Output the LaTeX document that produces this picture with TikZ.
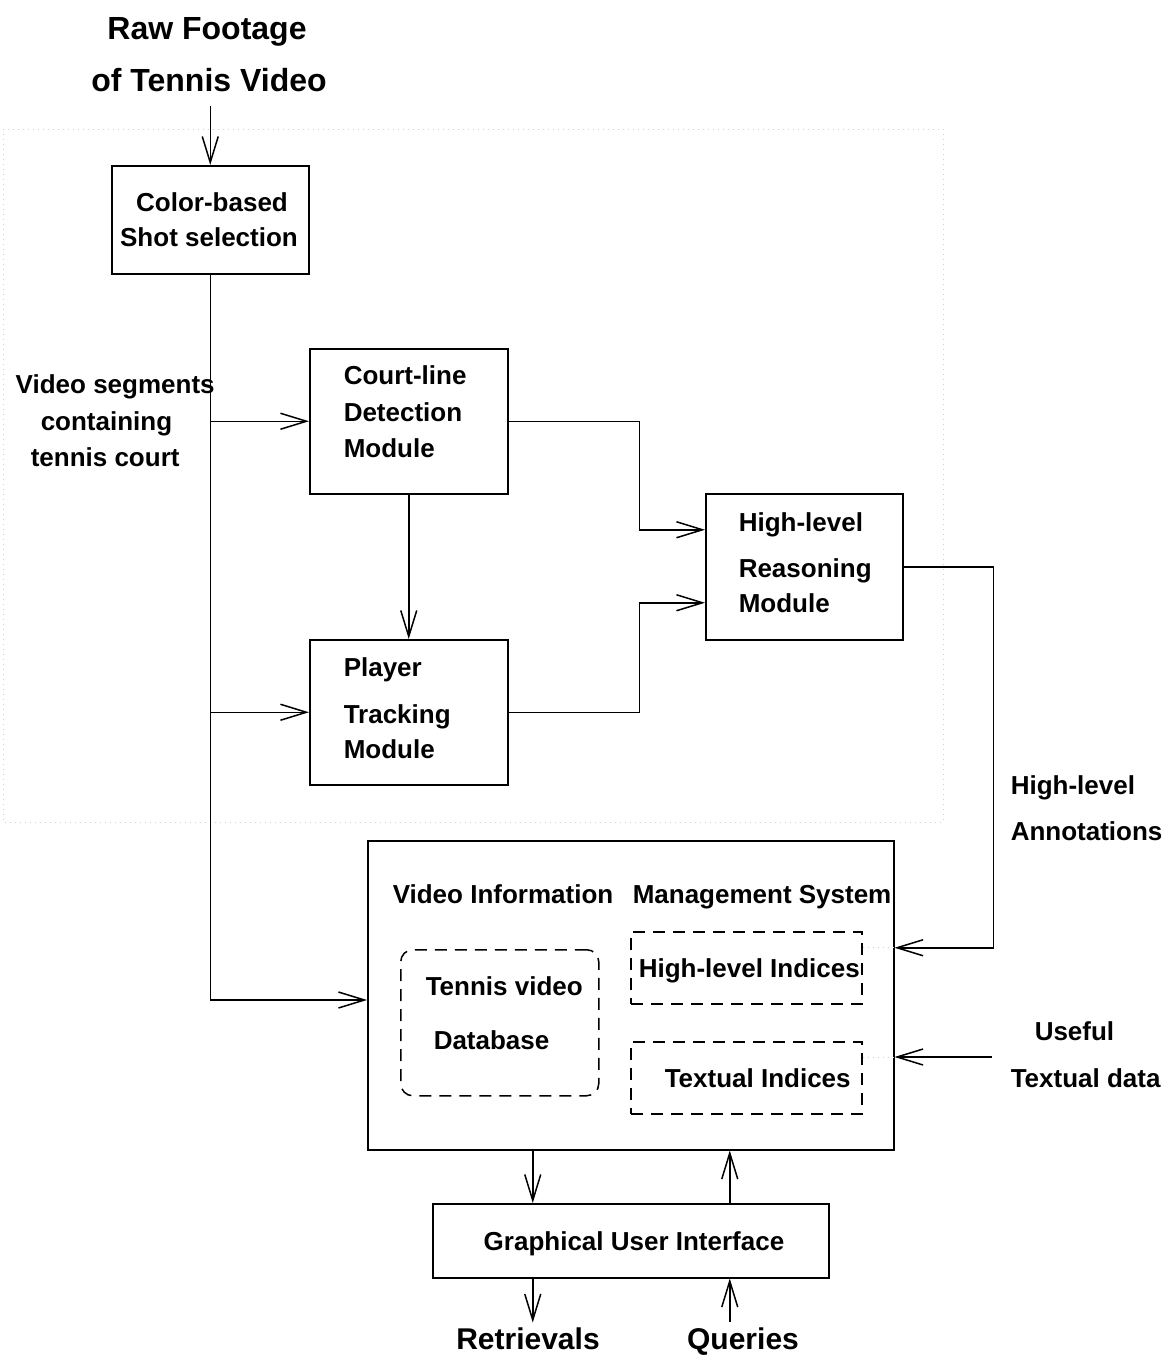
\documentclass[tikz,border=0pt]{standalone}
\usepackage{fontspec}
\setmainfont{Liberation Sans}
\usetikzlibrary{arrows.meta,calc}
\begin{document}
\begin{tikzpicture}[x=1pt,y=-1pt,line width=1.5pt,
  box/.style={draw,line width=1.5pt,inner sep=0pt,anchor=north west},
  dbox/.style={draw,line width=1.5pt,inner sep=0pt,anchor=north west,dash pattern=on 12pt off 8pt},
  txt/.style={font=\fontsize{26}{31}\selectfont\bfseries,inner sep=0pt,anchor=base west},
  ctxt/.style={font=\fontsize{26}{31}\selectfont\bfseries,inner sep=0pt,anchor=base},
  btxt/.style={font=\fontsize{30}{36}\selectfont\bfseries,inner sep=0pt,anchor=base},
  ttl/.style={font=\fontsize{32}{38}\selectfont\bfseries,inner sep=0pt,anchor=base},
  arr/.style={-{Straight Barb[length=26pt,width=16pt]}},
  faint/.style={draw=black!18,line width=1pt,dash pattern=on 1pt off 4pt}]
\useasboundingbox (0,0) rectangle (1174,1357);
% faint dotted frame
\draw[faint] (3,129) rectangle (943,822);
% title
\node[ttl] (t1) at (207,39) {Raw Footage};
\node[ttl] (t2) at (209,91) {of Tennis Video};
% boxes
\node[box,minimum width=197pt,minimum height=108pt] (csel) at (111,165) {};
\node[box,minimum width=198pt,minimum height=145pt] (cl) at (309,348) {};
\node[box,minimum width=198pt,minimum height=145pt] (pt) at (309,639) {};
\node[box,minimum width=197pt,minimum height=146pt] (hl) at (705,493) {};
\node[box,minimum width=526pt,minimum height=309pt] (vims) at (367,840) {};
\node[box,minimum width=396pt,minimum height=74pt] (gui) at (432,1203) {};
\node[dbox,rounded corners=12pt,minimum width=198pt,minimum height=146pt] (db) at (400,949) {};
\node[dbox,minimum width=231pt,minimum height=72pt] (hli) at (630,931) {};
\node[dbox,minimum width=231pt,minimum height=72pt] (tli) at (630,1041) {};
% texts
\node[ctxt] (cs1) at (212,211) {Color-based};
\node[ctxt] (cs2) at (209,246) {Shot selection};
\node[txt] (cl1) at (343,384) {Court-line};
\node[txt] (cl2) at (343,421) {Detection};
\node[txt] (cl3) at (343,457) {Module};
\node[txt] (pt1) at (343,676) {Player};
\node[txt] (pt2) at (343,723) {Tracking};
\node[txt] (pt3) at (343,758) {Module};
\node[txt] (hl1) at (738,531) {High-level};
\node[txt] (hl2) at (738,577) {Reasoning};
\node[txt] (hl3) at (738,612) {Module};
\node[txt] (vs1) at (15,393) {Video segments};
\node[txt] (vs2) at (40,430) {containing};
\node[txt] (vs3) at (30,466) {tennis court};
\node[txt] (an1) at (1010,794) {High-level};
\node[txt] (an2) at (1010,840) {Annotations};
\node[txt] (vi1) at (392,903) {Video Information};
\node[txt] (vi2) at (632,903) {Management System};
\node[txt] (db1) at (425,995) {Tennis video};
\node[txt] (db2) at (433,1049) {Database};
\node[txt] (hi1) at (638,977) {High-level Indices};
\node[txt] (ti1) at (664,1087) {Textual Indices};
\node[txt] (us1) at (1034,1040) {Useful};
\node[txt] (us2) at (1010,1087) {Textual data};
\node[ctxt] (gu1) at (634,1250) {Graphical User Interface};
\node[btxt] (retr) at (528,1349) {Retrievals};
\node[btxt] (qry) at (743,1349) {Queries};
% coordinates
\coordinate (vin) at ($(vims.north west)+(0,160)$);
\coordinate (ga) at ($(gui.north)+(-98,0)$);
\coordinate (gb) at ($(gui.north)+(99,0)$);
\coordinate (ut) at (992,1057);
% connectors
\draw[arr] ($(t2.south -| csel.north)+(0,14)$) -- (csel.north);
\draw[arr] (csel.south) |- (vin);
\draw[arr] (csel.south |- cl.west) -- (cl.west);
\draw[arr] (csel.south |- pt.west) -- (pt.west);
\draw[arr] (cl.south) -- (pt.north);
\draw[arr] (cl.east) -- ++(131,0) |- ($(hl.west)+(0,-37)$);
\draw[arr] (pt.east) -- ++(131,0) |- ($(hl.west)+(0,36)$);
\draw[arr] (hl.east) -- ++(90,0) |- ($(vims.east)+(0,-47.5)$);
\draw[arr] (ut) -- (vims.east |- ut);
\draw[faint] (hli.east |- 0,947) -- (vims.east |- 0,947);
\draw[faint] (tli.east |- ut) -- (vims.east |- ut);
\draw[arr] (vims.south -| ga) -- (ga);
\draw[arr] (gb) -- (vims.south -| gb);
\draw[arr] (gui.south -| ga) -- ($(retr.north -| ga)+(0,-4)$);
\draw[arr] ($(qry.north -| gb)+(0,-5)$) -- (gui.south -| gb);
\end{tikzpicture}
\end{document}
